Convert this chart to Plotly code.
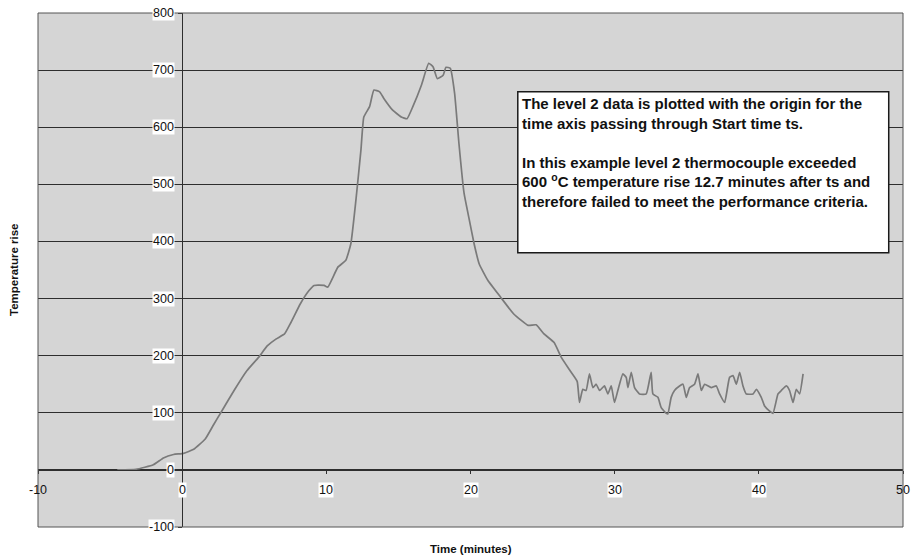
import plotly.graph_objects as go

# ---- data ----
time_min = [-4.5, -3.2, -2.0, -1.3, -0.6, 0.1, 0.8, 1.6, 2.2, 2.7, 3.6, 4.5, 5.3, 5.9, 6.5,
            7.1, 7.5, 8.2, 8.8, 9.15, 9.85, 10.1, 10.8, 11.35, 11.7, 12.05, 12.4, 12.6, 13.0,
            13.3, 13.7, 14.0, 14.6, 15.2, 15.6, 16.0, 16.6, 17.1, 17.4, 17.7, 18.1, 18.3,
            18.6, 18.9, 19.2, 19.55, 19.9, 20.25, 20.6, 21.2, 22.1, 23.0, 24.0, 24.55, 25.1,
            25.8, 26.3, 26.9, 27.4,
            27.56, 27.79, 28.02, 28.25, 28.49, 28.72, 28.95, 29.29, 29.53, 29.76, 29.99,
            30.22, 30.57, 30.8, 30.92, 31.15, 31.38, 31.72, 32.19, 32.53, 32.65, 33.0,
            33.23, 33.58, 33.69, 33.92, 34.15, 34.5, 34.74, 34.97, 35.19, 35.54, 35.78,
            36.01, 36.24, 36.7, 37.05, 37.28, 37.63, 37.97, 38.21, 38.44, 38.67, 38.9,
            39.13, 39.6, 39.83, 40.17, 40.4, 40.75, 40.98, 41.33, 41.56, 41.91, 42.13,
            42.37, 42.6, 42.83, 43.07]
temp_rise = [0, 1, 9, 21, 27, 29, 36, 54, 80, 101, 139, 174, 197, 217, 229,
             238, 256, 291, 314, 323, 323, 320, 355, 367, 396, 472, 560, 618, 636,
             665, 662, 650, 630, 618, 615, 636, 674, 712, 706, 685, 691, 705,
             703, 659, 571, 485, 440, 396, 361, 332, 302, 273, 253, 254, 238,
             223, 197, 174, 155,
             118, 141, 139, 168, 144, 150, 139, 147, 133, 147, 118,
             139, 168, 162, 144, 171, 144, 133, 133, 171, 133, 127,
             109, 99, 98, 127, 139, 147, 150, 127, 144, 150, 168,
             139, 150, 144, 147, 133, 118, 162, 165, 150, 171, 147,
             133, 133, 141, 127, 112, 103, 99, 133, 139, 147, 139,
             118, 141, 133, 168]

y_ticks = [800, 700, 600, 500, 400, 300, 200, 100, 0, -100]
y_tick_labels = ["800", "700", "600", "500", "400", "300", "200", "100", "0", "-100"]
x_ticks = [-10, 0, 10, 20, 30, 40, 50]
x_tick_labels = ["-10", "0", "10", "20", "30", "40", "50"]

x_title = "Time (minutes)"
y_title = "Temperature rise"
note_lines = [
    "The level 2 data is plotted with the origin for the",
    "time axis passing through Start time ts.",
    "",
    "In this example level 2 thermocouple exceeded",
    "600 <sup>o</sup>C temperature rise 12.7 minutes after ts and",
    "therefore failed to meet the performance criteria.",
]

X_RANGE = [-10, 50]
Y_RANGE = [-100, 800]
FONT = "Liberation Sans, Arial, sans-serif"
LINE_DARK = "#2e2e2e"

fig = go.Figure()
fig.add_trace(go.Scatter(
    x=time_min, y=temp_rise, mode="lines",
    line=dict(color="#7a7a7a", width=1.7, shape="spline", smoothing=0.4),
    showlegend=False, hoverinfo="x+y",
))

annotations = []
# y tick labels, sitting on the vertical axis at x=0
for v, t in zip(y_ticks, y_tick_labels):
    annotations.append(dict(
        x=0, y=v, xref="x", yref="y", text=t, showarrow=False,
        xanchor="right", yanchor="middle", xshift=-7,
        bgcolor="white", borderpad=0,
        font=dict(family=FONT, size=12.5, color="#111"),
    ))
# x tick labels, below the horizontal axis at y=0
for v, t in zip(x_ticks, x_tick_labels):
    edge = v in (X_RANGE[0], X_RANGE[1])
    annotations.append(dict(
        x=v, y=0, xref="x", yref="y", text=t, showarrow=False,
        xanchor="center", yanchor="top", yshift=-12,
        bgcolor="rgba(0,0,0,0)" if edge else "white", borderpad=0,
        font=dict(family=FONT, size=12.5, color="#111"),
    ))
# axis titles
annotations.append(dict(
    x=0.5, y=0, xref="paper", yref="paper", text=f"<b>{x_title}</b>",
    showarrow=False, xanchor="center", yanchor="middle", yshift=-22,
    font=dict(family=FONT, size=11.5, color="#111"),
))
annotations.append(dict(
    x=0, y=0.5, xref="paper", yref="paper", text=f"<b>{y_title}</b>",
    showarrow=False, xanchor="center", yanchor="middle", xshift=-24, textangle=-90,
    font=dict(family=FONT, size=11.5, color="#111"),
))

# note box
BOX_X0, BOX_X1, BOX_Y0, BOX_Y1 = 23.28, 49.01, 380, 662
annotations.append(dict(
    x=BOX_X0, y=BOX_Y1, xref="x", yref="y",
    text="<b>" + "<br>".join(note_lines) + "</b>",
    showarrow=False, xanchor="left", yanchor="top", align="left",
    xshift=2, yshift=-1,
    font=dict(family=FONT, size=15, color="#111"),
))

shapes = [
    dict(type="rect", xref="x", yref="y", x0=BOX_X0, x1=BOX_X1, y0=BOX_Y0, y1=BOX_Y1,
         fillcolor="white", line=dict(color="#1a1a1a", width=1.5), layer="above"),
    dict(type="rect", xref="paper", yref="paper", x0=0, x1=1, y0=0, y1=1,
         fillcolor="rgba(0,0,0,0)", line=dict(color="#555", width=1), layer="above"),
]

fig.update_layout(
    width=916, height=555,
    margin=dict(l=38, r=13, t=13, b=28, autoexpand=False),
    paper_bgcolor="white",
    plot_bgcolor="#d5d5d5",
    font=dict(family=FONT, size=12, color="#111"),
    showlegend=False,
    annotations=annotations,
    shapes=shapes,
    xaxis=dict(
        range=X_RANGE, tickvals=x_ticks, showticklabels=False,
        showgrid=False, zeroline=False, automargin=False,
        anchor="free", position=(0 - Y_RANGE[0]) / (Y_RANGE[1] - Y_RANGE[0]),
        showline=True, linecolor=LINE_DARK, linewidth=1,
        ticks="outside", ticklen=3, tickcolor=LINE_DARK,
    ),
    yaxis=dict(
        range=Y_RANGE, tickvals=y_ticks, showticklabels=False,
        showgrid=True, gridcolor=LINE_DARK, gridwidth=1, zeroline=False, automargin=False,
        anchor="free", position=(0 - X_RANGE[0]) / (X_RANGE[1] - X_RANGE[0]),
        showline=True, linecolor=LINE_DARK, linewidth=1,
        ticks="outside", ticklen=4, tickcolor=LINE_DARK,
    ),
)

fig.write_html(
    "out.html",
    config={"displayModeBar": False},
    post_script="document.body.style.margin='0';document.body.style.overflow='hidden';",
)
